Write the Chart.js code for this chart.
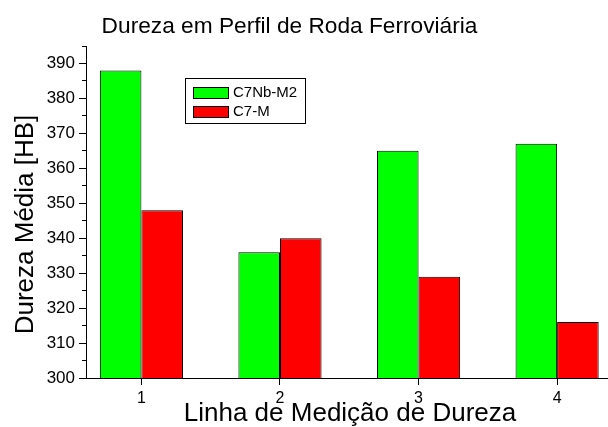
<!DOCTYPE html>
<html>
<head>
<meta charset="utf-8">
<script src="https://cdn.jsdelivr.net/npm/chart.js@4/dist/chart.umd.min.js"></script>
<style>
  html, body { margin: 0; padding: 0; background: #fff; }
  #wrap { width: 608px; height: 427px; position: relative; }
</style>
</head>
<body>
<div id="wrap"><canvas id="c" width="608" height="427"></canvas></div>
<script>
const chartTitle = 'Dureza em Perfil de Roda Ferroviária';
const xTitle = 'Linha de Medição de Dureza';
const yTitle = 'Dureza Média [HB]';
const categories = [1, 2, 3, 4];
const seriesNames = ['C7Nb-M2', 'C7-M'];
const c7nbM2 = [388, 336, 365, 367];
const c7M = [348, 340, 329, 316];
const yMajorTicks = [300, 310, 320, 330, 340, 350, 360, 370, 380, 390];
const yMinorTicks = [300, 305, 310, 315, 320, 325, 330, 335, 340, 345, 350, 355, 360, 365, 370, 375, 380, 385, 390, 395];
const xTicks = [1, 2, 3, 4];

const FONT = '"Liberation Sans", Arial, Helvetica, sans-serif';

const titlesPlugin = {
  id: 'titlesPlugin',
  afterDraw(chart) {
    const ctx = chart.ctx;
    ctx.save();
    ctx.fillStyle = '#000';
    ctx.textAlign = 'center';
    ctx.textBaseline = 'alphabetic';
    ctx.font = '22.7px ' + FONT;
    ctx.fillText(chartTitle, 289.5, 33);
    ctx.font = '26px ' + FONT;
    ctx.fillText(xTitle, 350, 421);
    ctx.translate(33, 224.5);
    ctx.rotate(-Math.PI / 2);
    ctx.fillText(yTitle, 0, 0);
    ctx.restore();
  }
};

const legendPlugin = {
  id: 'boxLegend',
  afterDraw(chart) {
    const ctx = chart.ctx;
    const x0 = 185, y0 = 78, w = 120, h = 45;
    ctx.save();
    ctx.fillStyle = '#fff';
    ctx.fillRect(x0, y0, w, h);
    ctx.strokeStyle = '#000';
    ctx.lineWidth = 1;
    ctx.strokeRect(x0 + 0.5, y0 + 0.5, w, h);
    ctx.font = '15px ' + FONT;
    ctx.textAlign = 'left';
    ctx.textBaseline = 'middle';
    chart.data.datasets.forEach((ds, i) => {
      const sy = 87 + i * 19;
      ctx.fillStyle = ds.backgroundColor;
      ctx.fillRect(193, sy, 35, 11);
      ctx.strokeStyle = '#000';
      ctx.strokeRect(193.5, sy + 0.5, 35, 11);
      ctx.fillStyle = '#000';
      ctx.fillText(ds.label, 233, sy + 6);
    });
    ctx.restore();
  }
};

new Chart(document.getElementById('c'), {
  type: 'bar',
  data: {
    datasets: [
      {
        label: seriesNames[0],
        data: categories.map((c, i) => ({ x: c, y: c7nbM2[i] })),
        backgroundColor: '#00ff00',
        borderColor: '#000',
        borderWidth: 1,
        borderSkipped: 'start'
      },
      {
        label: seriesNames[1],
        data: categories.map((c, i) => ({ x: c, y: c7M[i] })),
        backgroundColor: '#ff0000',
        borderColor: '#000',
        borderWidth: 1,
        borderSkipped: 'start'
      }
    ]
  },
  options: {
    responsive: false,
    animation: false,
    events: [],
    layout: { padding: { top: 46, left: 0, right: 1, bottom: 0 } },
    datasets: { bar: { categoryPercentage: 0.6, barPercentage: 1 } },
    plugins: {
      legend: { display: false },
      title: { display: false },
      tooltip: { enabled: false }
    },
    scales: {
      x: {
        type: 'linear',
        min: 0.6,
        max: 4.36,
        offset: false,
        grid: { offset: false, drawOnChartArea: false, tickLength: 7, tickColor: '#000', tickWidth: 1 },
        border: { color: '#000', width: 1 },
        ticks: { color: '#000', font: { family: FONT, size: 16 }, padding: 4, maxRotation: 0,
                 callback: v => String(v) },
        afterBuildTicks: s => { s.ticks = xTicks.map(v => ({ value: v })); },
        afterFit: s => { s.height = 49; }
      },
      y: {
        type: 'linear',
        position: 'left',
        weight: 1,
        min: 300,
        max: 395,
        beginAtZero: false,
        grid: { drawOnChartArea: false, tickLength: 7, tickColor: '#000', tickWidth: 1 },
        border: { color: '#000', width: 1 },
        ticks: { color: '#000', font: { family: FONT, size: 17 }, padding: 4 },
        afterBuildTicks: s => { s.ticks = yMajorTicks.map(v => ({ value: v })); },
        afterFit: s => { s.width = 86; }
      },
      yMinor: {
        type: 'linear',
        position: 'left',
        weight: 0,
        min: 300,
        max: 395,
        beginAtZero: false,
        grid: { drawOnChartArea: false, tickLength: 4, tickColor: '#000', tickWidth: 1 },
        border: { display: false },
        ticks: { display: false },
        afterBuildTicks: s => { s.ticks = yMinorTicks.map(v => ({ value: v })); },
        afterFit: s => { s.width = 0; }
      }
    }
  },
  plugins: [titlesPlugin, legendPlugin]
});
</script>
</body>
</html>
